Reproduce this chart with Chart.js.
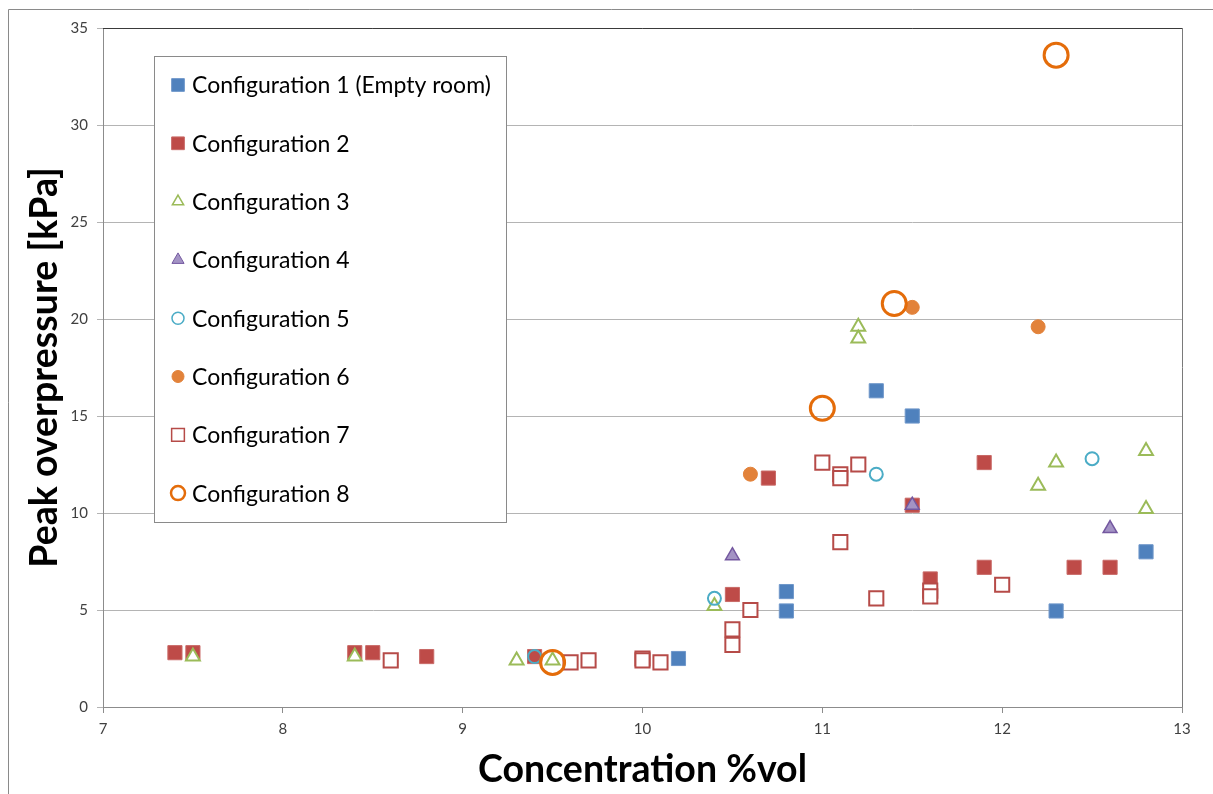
<!DOCTYPE html>
<html>
<head>
<meta charset="utf-8">
<script src="https://cdn.jsdelivr.net/npm/chart.js@4.4.1/dist/chart.umd.min.js"></script>
<style>
  html, body { margin: 0; padding: 0; background: #fff; }
</style>
</head>
<body>
<canvas id="myChart" width="1213" height="794"></canvas>
<script>
const labels = [
    'Configuration 1 (Empty room)', 'Configuration 2', 'Configuration 3', 'Configuration 4',
    'Configuration 5', 'Configuration 6', 'Configuration 7', 'Configuration 8',
];

// concentration (%vol) / peak overpressure (kPa) per configuration
const conf1X = [10.2, 10.8, 10.8, 11.3, 11.5, 12.3, 12.8];
const conf1Y = [2.5, 5.95, 4.95, 16.3, 15.0, 4.95, 8.0];
const conf2X = [7.4, 7.5, 8.4, 8.5, 8.8, 9.4, 10.5, 10.7, 11.5, 11.6, 11.9, 11.9, 12.4, 12.6];
const conf2Y = [2.8, 2.8, 2.8, 2.8, 2.6, 2.6, 5.8, 11.8, 10.4, 6.6, 12.6, 7.2, 7.2, 7.2];
const conf3X = [7.5, 8.4, 9.3, 9.5, 10.4, 11.2, 11.2, 12.2, 12.3, 12.8, 12.8];
const conf3Y = [2.6, 2.6, 2.4, 2.4, 5.2, 19.6, 19.0, 11.4, 12.6, 13.2, 10.2];
const conf4X = [10.5, 11.5, 12.6];
const conf4Y = [7.8, 10.4, 9.2];
const conf5X = [9.4, 10.4, 11.3, 12.5];
const conf5Y = [2.6, 5.6, 12.0, 12.8];
const conf6X = [10.6, 11.5, 12.2];
const conf6Y = [12.0, 20.6, 19.6];
const conf7X = [8.6, 9.6, 9.7, 10.0, 10.0, 10.1, 10.5, 10.5, 10.6, 11.0, 11.1, 11.1, 11.1, 11.2, 11.3, 11.6, 11.6, 12.0];
const conf7Y = [2.4, 2.3, 2.4, 2.5, 2.4, 2.3, 4.0, 3.2, 5.0, 12.6, 12.0, 11.8, 8.5, 12.5, 5.6, 6.0, 5.7, 6.3];
const conf8X = [9.5, 11.0, 11.4, 12.3];
const conf8Y = [2.3, 15.4, 20.8, 33.6];

const xTicks = [7, 8, 9, 10, 11, 12, 13];
const yTicks = [0, 5, 10, 15, 20, 25, 30, 35];

const pairs = (xs, ys) => xs.map((x, i) => ({x: x, y: ys[i]}));

// marker look for each configuration, legend marker size kept separately
const styles = [
    {shape: 'rect', r: 10, fill: '#4F81BD', line: '#6F97CA', lw: 1, lr: 9},
    {shape: 'rect', r: 10, fill: '#BE4B48', line: '#C96A67', lw: 1, lr: 9},
    {shape: 'triangle', r: 8, fill: '#FFFFFF', line: '#9BBB59', lw: 2, lr: 6.5},
    {shape: 'triangle', r: 8, fill: '#A393C4', line: '#7458A0', lw: 1.5, lr: 7},
    {shape: 'circle', r: 6.5, fill: 'rgba(255,255,255,0)', line: '#4BACC6', lw: 2, lr: 6},
    {shape: 'circle', r: 7, fill: '#E2823A', line: '#E2823A', lw: 1, lr: 6},
    {shape: 'rect', r: 10, fill: '#FFFFFF', line: '#B64B48', lw: 2, lr: 9},
    {shape: 'circle', r: 12, fill: 'rgba(255,255,255,0)', line: '#E46C0A', lw: 3, lr: 7},
];

const series = [
    pairs(conf1X, conf1Y), pairs(conf2X, conf2Y), pairs(conf3X, conf3Y), pairs(conf4X, conf4Y),
    pairs(conf5X, conf5Y), pairs(conf6X, conf6Y), pairs(conf7X, conf7Y), pairs(conf8X, conf8Y),
];

const datasets = series.map((data, i) => ({
    label: labels[i],
    data: data,
    pointStyle: styles[i].shape,
    pointRadius: styles[i].r,
    pointHoverRadius: styles[i].r,
    backgroundColor: styles[i].fill,
    borderColor: styles[i].line,
    borderWidth: styles[i].lw,
    order: 8 - i,   // later configurations on top
    clip: false,
}));

// frame round the whole chart and the dark top / right edge of the plot
const frame = {
    id: 'frame',
    beforeDatasetsDraw(chart) {
        const {ctx, chartArea: a} = chart;
        ctx.save();
        ctx.lineWidth = 1;
        ctx.strokeStyle = '#8a8a8a';
        ctx.beginPath();
        ctx.moveTo(8.5, 900);
        ctx.lineTo(8.5, 9.5);
        ctx.lineTo(1300, 9.5);
        ctx.stroke();
        ctx.strokeStyle = '#3a3a3a';
        ctx.beginPath();
        ctx.moveTo(a.left, a.top + 0.5);
        ctx.lineTo(a.right, a.top + 0.5);
        ctx.stroke();
        ctx.strokeStyle = '#7a7a7a';
        ctx.beginPath();
        ctx.moveTo(a.right + 0.5, a.top);
        ctx.lineTo(a.right + 0.5, a.bottom);
        ctx.stroke();
        ctx.restore();
    }
};

// boxed legend sitting inside the plot area
const boxLegend = {
    id: 'boxLegend',
    afterDatasetsDraw(chart) {
        const ctx = chart.ctx;
        ctx.save();
        ctx.fillStyle = '#ffffff';
        ctx.fillRect(154, 56, 352, 466);
        ctx.strokeStyle = '#8a8a8a';
        ctx.lineWidth = 1;
        ctx.strokeRect(154.5, 56.5, 352, 466);
        ctx.font = '23px Lato';
        ctx.textBaseline = 'middle';
        labels.forEach((text, i) => {
            const s = styles[i];
            const y = 85 + i * 58.3;
            ctx.fillStyle = s.fill;
            ctx.strokeStyle = s.line;
            ctx.lineWidth = s.lw > 1 ? s.lw - 0.5 : s.lw;
            Chart.helpers.drawPoint(ctx, {pointStyle: s.shape, radius: s.lr, rotation: 0, borderWidth: s.lw}, 178, y);
            ctx.fillStyle = '#000000';
            ctx.fillText(text, 192, y + 1);
        });
        ctx.restore();
    }
};

const tickFont = {family: 'Lato', size: 15};

const ctx = document.getElementById('myChart');
const myChart = new Chart(ctx, {
    type: 'scatter',
    data: {datasets: datasets},
    options: {
        responsive: false,
        animation: false,
        events: [],
        layout: {padding: {top: 28, right: 31, bottom: 0, left: 0}},
        plugins: {
            legend: {display: false},
            tooltip: {enabled: false},
        },
        scales: {
            x: {
                type: 'linear',
                min: xTicks[0],
                max: xTicks[xTicks.length - 1],
                afterBuildTicks: (s) => { s.ticks = xTicks.map(v => ({value: v})); },
                afterFit: (s) => { s.height = 87; },
                ticks: {font: tickFont, color: '#404040', padding: 7},
                grid: {drawOnChartArea: false, tickLength: 6, color: '#8c8c8c'},
                border: {color: '#8c8c8c'},
                title: {
                    display: true,
                    text: 'Concentration %vol',
                    color: '#000000',
                    font: {family: 'Lato', size: 37.5, weight: 'bold', lineHeight: 1.2},
                    padding: {top: 0, bottom: 1.5},
                },
            },
            y: {
                min: yTicks[0],
                max: yTicks[yTicks.length - 1],
                afterBuildTicks: (s) => { s.ticks = yTicks.map(v => ({value: v})); },
                afterFit: (s) => { s.width = 103; },
                ticks: {font: tickFont, color: '#404040', padding: 9},
                grid: {color: '#b4b4b4', tickLength: 6},
                border: {color: '#8c8c8c'},
                title: {
                    display: true,
                    text: 'Peak overpressure [kPa]',
                    color: '#000000',
                    font: {family: 'Lato', size: 37.5, weight: 'bold', lineHeight: 1.2},
                    padding: {top: 22.5, bottom: 0},
                },
            },
        },
    },
    plugins: [frame, boxLegend],
});
</script>
</body>
</html>
